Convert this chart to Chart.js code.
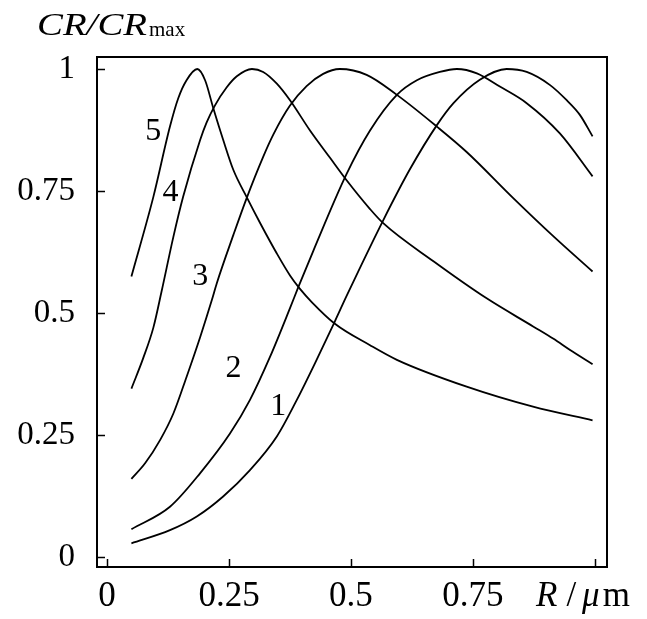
<!DOCTYPE html>
<html>
<head>
<meta charset="utf-8">
<style>
  html, body { margin: 0; padding: 0; background: #fff; }
  #wrap { width: 647px; height: 619px; }
</style>
</head>
<body>
<div id="wrap"><canvas id="chart" width="647" height="619"></canvas></div>
<script src="https://cdn.jsdelivr.net/npm/chart.js@4/dist/chart.umd.min.js"></script>
<script>
// Values: R in um, CR/CRmax
const r1 = [0.05, 0.129, 0.184, 0.238, 0.293, 0.348, 0.389, 0.43, 0.467, 0.491, 0.566, 0.621, 0.676, 0.71, 0.764, 0.819, 0.86, 0.908, 0.942, 0.969, 0.995];
const cr1 = [0.028, 0.055, 0.083, 0.124, 0.178, 0.247, 0.322, 0.405, 0.483, 0.535, 0.69, 0.795, 0.885, 0.93, 0.978, 1.0, 0.994, 0.967, 0.936, 0.906, 0.862];

const r2 = [0.05, 0.129, 0.191, 0.252, 0.293, 0.334, 0.375, 0.392, 0.423, 0.491, 0.539, 0.594, 0.635, 0.682, 0.717, 0.758, 0.805, 0.86, 0.928, 0.995];
const cr2 = [0.057, 0.103, 0.172, 0.253, 0.322, 0.41, 0.51, 0.553, 0.628, 0.785, 0.874, 0.947, 0.977, 0.994, 1.0, 0.991, 0.964, 0.93, 0.868, 0.78];

const r3 = [0.05, 0.078, 0.109, 0.136, 0.163, 0.191, 0.215, 0.225, 0.259, 0.286, 0.32, 0.341, 0.375, 0.409, 0.443, 0.477, 0.532, 0.594, 0.676, 0.737, 0.833, 0.915, 0.995];
const cr3 = [0.16, 0.192, 0.24, 0.294, 0.369, 0.451, 0.527, 0.561, 0.66, 0.735, 0.82, 0.866, 0.925, 0.965, 0.99, 1.0, 0.988, 0.947, 0.882, 0.83, 0.735, 0.657, 0.585];

const r4 = [0.05, 0.074, 0.095, 0.112, 0.136, 0.156, 0.191, 0.204, 0.221, 0.245, 0.266, 0.297, 0.32, 0.348, 0.375, 0.416, 0.457, 0.491, 0.539, 0.566, 0.669, 0.778, 0.874, 0.915, 0.949, 0.995];
const cr4 = [0.345, 0.407, 0.47, 0.545, 0.656, 0.738, 0.855, 0.89, 0.925, 0.962, 0.985, 1.0, 0.994, 0.97, 0.936, 0.874, 0.818, 0.772, 0.713, 0.684, 0.606, 0.53, 0.472, 0.447, 0.424, 0.395];

const r5 = [0.05, 0.095, 0.129, 0.146, 0.163, 0.185, 0.201, 0.218, 0.238, 0.259, 0.286, 0.314, 0.348, 0.375, 0.395, 0.42, 0.467, 0.539, 0.594, 0.737, 0.873, 0.995];
const cr5 = [0.575, 0.738, 0.882, 0.94, 0.977, 1.0, 0.977, 0.919, 0.855, 0.793, 0.738, 0.684, 0.622, 0.577, 0.55, 0.522, 0.478, 0.434, 0.404, 0.349, 0.308, 0.28];

const xTicks = [0, 0.25, 0.5, 0.75, 1];
const yTicks = [0, 0.25, 0.5, 0.75, 1];

// curve numbers and where they sit (data coords)
const curveNames = ['1', '2', '3', '4', '5'];
const nameR = [0.351, 0.259, 0.191, 0.130, 0.095];
const nameCR = [0.308, 0.386, 0.574, 0.746, 0.871];

const serif = '"Liberation Serif", "Times New Roman", serif';

const toPoints = (xs, ys) => xs.map((x, i) => ({ x: x, y: ys[i] }));

const curve = (xs, ys) => ({
  data: toPoints(xs, ys),
  borderColor: '#000',
  borderWidth: 1.8,
  pointRadius: 0,
  fill: false,
  cubicInterpolationMode: 'monotone'
});

// frame, inward ticks and all the free text
const decor = {
  id: 'decor',
  afterDraw(chart) {
    const ctx = chart.ctx;
    const a = chart.chartArea;
    const xs = chart.scales.x;
    const ys = chart.scales.y;
    ctx.save();
    ctx.strokeStyle = '#000';
    ctx.fillStyle = '#000';

    ctx.lineWidth = 2;
    ctx.strokeRect(a.left, a.top, a.right - a.left, a.bottom - a.top);

    ctx.lineWidth = 1.5;
    ctx.beginPath();
    xTicks.forEach((v) => {
      const px = Math.round(xs.getPixelForValue(v)) + 0.5;
      ctx.moveTo(px, a.bottom);
      ctx.lineTo(px, a.bottom - 8);
    });
    yTicks.forEach((v) => {
      const py = Math.round(ys.getPixelForValue(v)) + 0.5;
      ctx.moveTo(a.left, py);
      ctx.lineTo(a.left + 8, py);
    });
    ctx.stroke();

    // curve numbers
    ctx.font = '32px ' + serif;
    ctx.textAlign = 'center';
    ctx.textBaseline = 'middle';
    curveNames.forEach((name, i) => {
      ctx.fillText(name, xs.getPixelForValue(nameR[i]), ys.getPixelForValue(nameCR[i]));
    });

    // y title: CR/CR max
    ctx.textAlign = 'left';
    ctx.textBaseline = 'alphabetic';
    ctx.font = 'italic 31px ' + serif;
    const w = ctx.measureText('CR/CR').width;
    ctx.save();
    ctx.translate(37, 35);
    ctx.scale(110 / w, 1);
    ctx.fillText('CR/CR', 0, 0);
    ctx.restore();
    ctx.font = '21px ' + serif;
    ctx.fillText('max', 149, 36);

    // x title: R / um, on the tick label line
    const yMid = xs.top + 9 + 21;
    ctx.textBaseline = 'middle';
    let x = 536;
    ctx.font = 'italic 35px ' + serif;
    ctx.fillText('R', x, yMid);
    x += ctx.measureText('R').width + 9;
    ctx.font = '35px ' + serif;
    ctx.fillText('/', x, yMid);
    x += ctx.measureText('/').width + 6;
    ctx.font = 'italic 35px ' + serif;
    ctx.fillText('\u03bc', x, yMid);
    x += ctx.measureText('\u03bc').width + 3;
    ctx.font = '35px ' + serif;
    ctx.fillText('m', x, yMid);
    ctx.restore();
  }
};

const chart = new Chart(document.getElementById('chart'), {
  type: 'line',
  data: {
    datasets: [curve(r1, cr1), curve(r2, cr2), curve(r3, cr3), curve(r4, cr4), curve(r5, cr5)]
  },
  options: {
    responsive: false,
    animation: false,
    devicePixelRatio: 1,
    layout: { padding: { top: 57, right: 40, left: 0, bottom: 0 } },
    plugins: {
      legend: { display: false },
      tooltip: { enabled: false }
    },
    scales: {
      x: {
        type: 'linear',
        min: -0.0205,
        max: 1.0246,
        afterBuildTicks: (scale) => { scale.ticks = xTicks.map((v) => ({ value: v })); },
        afterFit: (scale) => { scale.height = 52; },
        grid: { display: false, drawTicks: false },
        border: { display: false },
        ticks: {
          color: '#000',
          padding: 9,
          maxRotation: 0,
          autoSkip: false,
          font: { family: serif, size: 35 },
          callback: (v) => (v === 1 ? '' : String(v))
        }
      },
      y: {
        type: 'linear',
        min: -0.0205,
        max: 1.0246,
        afterBuildTicks: (scale) => { scale.ticks = yTicks.map((v) => ({ value: v })); },
        afterFit: (scale) => { scale.width = 97; },
        grid: { display: false, drawTicks: false },
        border: { display: false },
        ticks: {
          color: '#000',
          padding: 22,
          autoSkip: false,
          font: { family: serif, size: 33 },
          callback: (v) => String(v)
        }
      }
    }
  },
  plugins: [decor]
});
</script>
</body>
</html>
